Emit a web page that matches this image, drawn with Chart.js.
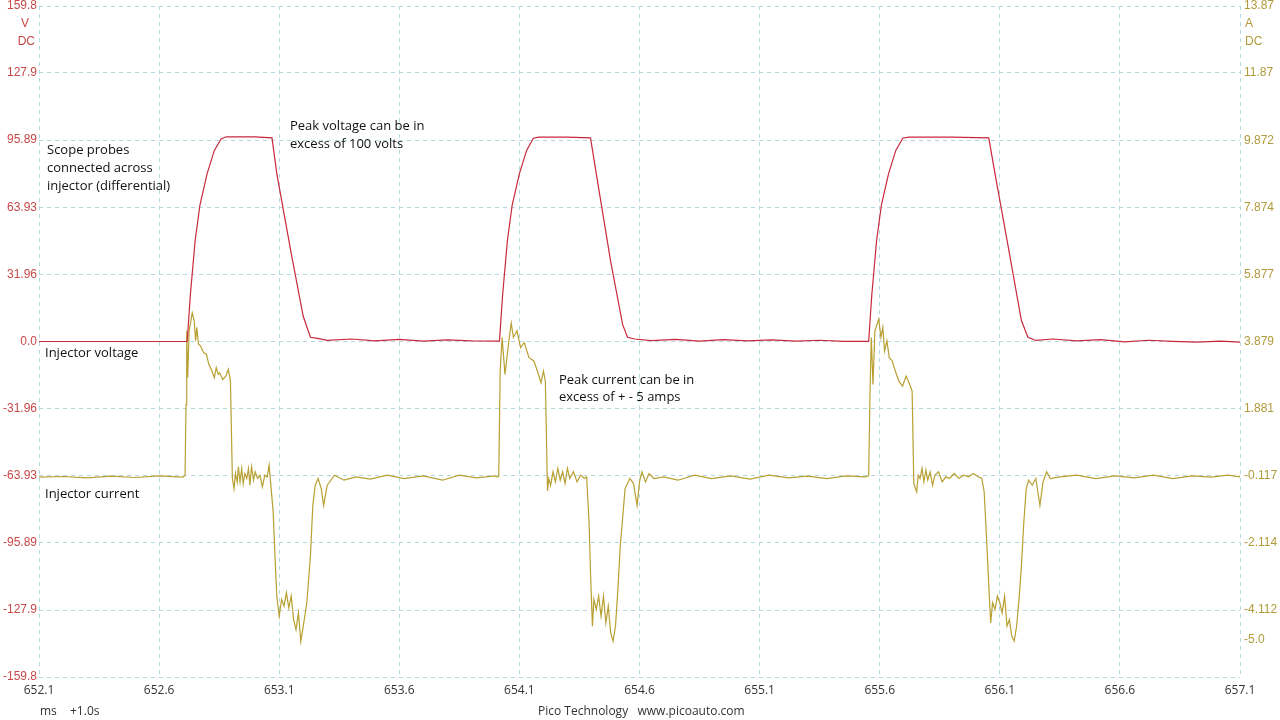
<!DOCTYPE html>
<html>
<head>
<meta charset="utf-8">
<script src="https://cdn.jsdelivr.net/npm/chart.js@4.4.1/dist/chart.umd.min.js"></script>
<style>
  html, body { margin: 0; padding: 0; background: #fff; }
  #wrap { width: 1280px; height: 720px; }
</style>
</head>
<body>
<div id="wrap"><canvas id="scope" width="1280" height="720"></canvas></div>
<script>
// Axis tick values
const voltTicks = [159.8, 127.9, 95.89, 63.93, 31.96, 0, -31.96, -63.93, -95.89, -127.9, -159.8];
const voltTickLabels = ['159.8', '127.9', '95.89', '63.93', '31.96', '0.0', '-31.96', '-63.93', '-95.89', '-127.9', '-159.8'];
const ampTicks = [13.87, 11.87, 9.872, 7.874, 5.877, 3.879, 1.881, -0.117, -2.114, -4.112, -5.0];
const ampTickLabels = ['13.87', '11.87', '9.872', '7.874', '5.877', '3.879', '1.881', '-0.117', '-2.114', '-4.112', '-5.0'];
const timeTicks = [652.1, 652.6, 653.1, 653.6, 654.1, 654.6, 655.1, 655.6, 656.1, 656.6, 657.1];

// Injector voltage (ms, V)
const voltTimes = [
  652.1, 652.3, 652.5, 652.717, 652.73, 652.75, 652.77, 652.80, 652.83, 652.858, 652.88, 653.0, 653.07,
  653.09, 653.15, 653.20, 653.23, 653.26, 653.30, 653.40, 653.50, 653.60, 653.70, 653.80, 653.90, 654.017,
  654.03, 654.05, 654.07, 654.10, 654.13, 654.158, 654.18, 654.30, 654.396,
  654.42, 654.48, 654.53, 654.55, 654.58, 654.65, 654.75, 654.85, 654.95, 655.05, 655.15, 655.25, 655.35, 655.45, 655.554,
  655.567, 655.587, 655.607, 655.637, 655.667, 655.696, 655.72, 655.90, 656.054,
  656.08, 656.14, 656.19, 656.217, 656.25, 656.32, 656.42, 656.52, 656.62, 656.72, 656.82, 656.92, 657.02, 657.1
];
const voltValues = [
  0, 0, 0, 0, 22, 48, 65, 80, 91, 96.5, 97.5, 97.5, 97,
  80, 42, 12, 2, 1.5, 0.5, 1.2, 0.3, 1.0, 0.2, 0.8, 0.3, 0.2,
  22, 48, 65, 80, 91, 96.8, 97.3, 97.3, 97,
  80, 38, 8, 2, 1.2, 0.4, 1.0, 0.2, 0.9, 0.3, 0.8, 0.2, 0.6, 0.1, 0.1,
  22, 48, 65, 80, 91, 96.8, 97.3, 97.3, 97,
  80, 42, 10, 2, 0.5, 1.2, 0.3, 0.9, -0.2, 0.6, 0.1, -0.3, 0.2, -0.3
];

// Injector current (ms, A)
const currTimes = [
  652.1, 652.2, 652.3, 652.4, 652.5, 652.6, 652.700, 652.708, 652.712, 652.715, 652.719, 652.725, 652.738,
  652.746, 652.752, 652.757, 652.764, 652.772, 652.785, 652.797, 652.807, 652.82, 652.83, 652.838, 652.846, 652.852,
  652.865, 652.878, 652.888, 652.897, 652.905, 652.912, 652.918, 652.925, 652.93, 652.937, 652.944, 652.95, 652.957,
  652.965, 652.972, 652.978, 652.985,
  652.993, 653.0, 653.01, 653.02, 653.03, 653.04, 653.05, 653.058, 653.064, 653.075, 653.083, 653.09, 653.1, 653.11,
  653.12, 653.13, 653.14, 653.15, 653.16, 653.17, 653.18, 653.19, 653.2, 653.215, 653.23, 653.24, 653.25, 653.262,
  653.275, 653.285, 653.3, 653.33, 653.37, 653.42, 653.48, 653.55, 653.62, 653.7, 653.78, 653.85, 653.92, 654.0,
  654.008, 654.014, 654.02, 654.028, 654.04, 654.058, 654.066, 654.075, 654.09, 654.105, 654.12, 654.14, 654.16,
  654.175, 654.19, 654.2, 654.208, 654.217, 654.222, 654.23, 654.24, 654.25, 654.26, 654.27, 654.28, 654.29, 654.3,
  654.31, 654.325, 654.34, 654.355, 654.37, 654.38, 654.39, 654.396, 654.404, 654.41, 654.42, 654.43, 654.44,
  654.45, 654.46, 654.47, 654.48, 654.49, 654.5, 654.51, 654.52, 654.54, 654.56, 654.575, 654.59, 654.6, 654.61,
  654.625, 654.64, 654.66, 654.7, 654.76, 654.83, 654.9, 654.98, 655.06, 655.14, 655.22, 655.3, 655.38, 655.46, 655.54,
  655.554, 655.56, 655.565, 655.572, 655.58, 655.596, 655.605, 655.613, 655.62, 655.63, 655.64, 655.652, 655.665,
  655.68, 655.695, 655.71, 655.725, 655.735, 655.742, 655.754, 655.76, 655.768, 655.776, 655.784, 655.792, 655.8,
  655.81, 655.82, 655.83, 655.845, 655.86, 655.875, 655.89, 655.91, 655.93, 655.95, 655.97, 655.99, 656.01, 656.025,
  656.035, 656.045, 656.055, 656.062, 656.07, 656.08, 656.09, 656.1, 656.11, 656.12, 656.13, 656.14, 656.15, 656.16,
  656.17, 656.18, 656.19, 656.2, 656.21, 656.22, 656.235, 656.25, 656.267, 656.28, 656.295, 656.31, 656.35, 656.42,
  656.5, 656.58, 656.66, 656.74, 656.82, 656.9, 656.98, 657.05, 657.1
];
const currValues = [
  -0.16, -0.14, -0.18, -0.13, -0.17, -0.12, -0.16, -0.1, 2.0, 4.2, 2.8, 4.2, 4.73,
  4.5, 3.9, 4.3, 3.8, 3.75, 3.55, 3.5, 3.2, 3.0, 2.8, 3.1, 2.9, 2.95,
  2.75, 2.85, 3.05, 2.7, -0.2, -0.5, -0.05, -0.3, 0.15, -0.3, 0.1, -0.35, -0.05,
  -0.2, 0.1, -0.4, 0.15,
  -0.25, 0.0, -0.2, -0.1, -0.45, -0.1, -0.15, 0.2, -0.3, -1.2, -2.6, -3.7, -4.3,
  -3.8, -4.0, -3.6, -4.05, -3.7, -4.4, -4.7, -4.2, -5.05, -4.6, -3.9, -2.5, -1.0, -0.4, -0.2, -0.5,
  -1.0, -0.4, -0.1, -0.25, -0.15, -0.22, -0.1, -0.2, -0.12, -0.25, -0.1, -0.18, -0.12, -0.16,
  -0.14, 3.0, 4.0, 2.9, 4.0, 4.43, 4.0, 4.2, 3.7, 3.85, 3.4, 3.3, 3.0,
  2.65, 3.0, 2.7, -0.57, -0.2, -0.4, 0.0, -0.3, 0.1, -0.25, 0.0, -0.35, 0.1,
  -0.2, 0.0, -0.3, -0.1, -0.2, -0.15, -1.5, -3.0, -4.6, -3.8, -4.1, -3.7, -4.3,
  -3.7, -4.5, -4.0, -4.8, -5.04, -4.6, -3.5, -2.2, -0.5, -0.2, -0.35, -1.0, -0.3, 0.0,
  -0.3, -0.05, -0.2, -0.15, -0.25, -0.1, -0.2, -0.12, -0.22, -0.1, -0.18, -0.13, -0.2, -0.12, -0.15,
  -0.12, 2.5, 4.0, 2.6, 4.2, 4.55, 4.0, 4.3, 3.6, 3.9, 3.4, 3.3, 3.0,
  2.7, 2.55, 2.85, 2.6, 2.4, -0.35, -0.6, -0.1, -0.2, 0.1, -0.3, 0.05, -0.25,
  0.0, -0.4, -0.1, 0.0, -0.3, -0.15, -0.2, -0.05, -0.2, -0.1, -0.15, -0.05, -0.15, -0.2,
  -0.6, -2.0, -3.5, -4.5, -3.9, -4.1, -3.7, -3.9, -4.2, -3.7, -4.6, -4.4, -4.9, -5.04,
  -4.6, -3.8, -2.8, -1.5, -0.5, -0.25, -0.4, -0.2, -1.0, -0.3, 0.0, -0.2, -0.15, -0.1,
  -0.2, -0.12, -0.18, -0.1, -0.2, -0.12, -0.16, -0.1, -0.15
];

const voltColor = '#c8283c';
const currColor = '#b8a032';
const gridColor = '#b4d8e0';

const voltPoints = voltTimes.map((t, i) => ({ x: t, y: voltValues[i] }));
const currPoints = currTimes.map((t, i) => ({ x: t, y: currValues[i] }));

// annotations and axis unit captions
const notes = [
  { text: 'Scope probes', x: 47, y: 150 },
  { text: 'connected across', x: 47, y: 168 },
  { text: 'injector (differential)', x: 47, y: 186 },
  { text: 'Peak voltage can be in', x: 290, y: 126 },
  { text: 'excess of 100 volts', x: 290, y: 144 },
  { text: 'Injector voltage', x: 45, y: 353 },
  { text: 'Peak current can be in', x: 559, y: 380 },
  { text: 'excess of + - 5 amps', x: 559, y: 397 },
  { text: 'Injector current', x: 45, y: 494 }
];

const tickFont = { size: 12, family: '"Liberation Sans", Arial, sans-serif' };

// stop Chart.js reserving half a label above/below the plot
function noEdgePad(s) {
  s.paddingTop = 0;
  s.paddingBottom = 0;
  s.paddingLeft = 0;
  s.paddingRight = 0;
}

const textPlugin = {
  id: 'scopeText',
  afterDraw(chart) {
    const ctx = chart.ctx;
    ctx.save();
    ctx.textBaseline = 'middle';
    ctx.font = '13px "Open Sans", sans-serif';
    ctx.fillStyle = '#111';
    ctx.textAlign = 'left';
    notes.forEach(n => ctx.fillText(n.text, n.x, n.y));

    ctx.font = '12px "Liberation Sans", Arial, sans-serif';
    ctx.fillStyle = '#c84848';
    ctx.textAlign = 'right';
    ctx.fillText('V', 29, 24);
    ctx.fillText('DC', 35, 42);
    ctx.fillStyle = '#b09a3a';
    ctx.textAlign = 'left';
    ctx.fillText('A', 1245, 24);
    ctx.fillText('DC', 1245, 42);

    ctx.font = '12px "Open Sans", sans-serif';
    ctx.fillStyle = '#333';
    ctx.fillText('ms', 40, 712);
    ctx.fillText('+1.0s', 70, 712);
    ctx.fillText('Pico Technology   www.picoauto.com', 538, 712);
    ctx.restore();
  }
};

new Chart(document.getElementById('scope'), {
  type: 'line',
  data: {
    datasets: [
      { label: 'Injector voltage', data: voltPoints, yAxisID: 'yV', borderColor: voltColor, borderWidth: 1.2, pointRadius: 0, tension: 0 },
      { label: 'Injector current', data: currPoints, yAxisID: 'yA', borderColor: currColor, borderWidth: 1.2, pointRadius: 0, tension: 0 }
    ]
  },
  options: {
    responsive: false,
    animation: false,
    layout: { padding: { top: 6, left: 0, right: 0, bottom: 0 } },
    plugins: { legend: { display: false }, tooltip: { enabled: false } },
    scales: {
      x: {
        type: 'linear',
        min: 652.1,
        max: 657.1,
        afterBuildTicks: s => { s.ticks = timeTicks.map(v => ({ value: v })); },
        afterFit: s => { s.height = 43; noEdgePad(s); },
        ticks: {
          callback: v => v.toFixed(1),
          color: '#333',
          font: { size: 12, family: '"Open Sans", sans-serif' },
          padding: 6,
          maxRotation: 0
        },
        grid: { color: gridColor, drawTicks: false },
        border: { display: false, dash: [4, 4] }
      },
      yV: {
        position: 'left',
        min: -159.8,
        max: 159.8,
        afterBuildTicks: s => { s.ticks = voltTicks.map(v => ({ value: v })); },
        afterFit: s => { s.width = 39; noEdgePad(s); },
        ticks: {
          callback: (v, i) => voltTickLabels[i],
          color: '#c84848',
          font: tickFont,
          padding: 2
        },
        grid: { color: gridColor, drawTicks: false },
        border: { display: false, dash: [4, 4] }
      },
      yA: {
        position: 'right',
        min: -6.11,
        max: 13.87,
        afterBuildTicks: s => { s.ticks = ampTicks.map(v => ({ value: v })); },
        afterFit: s => { s.width = 40; noEdgePad(s); },
        ticks: {
          callback: (v, i) => ampTickLabels[i],
          color: '#b09a3a',
          font: tickFont,
          padding: 4
        },
        grid: { display: false, drawTicks: false, tickLength: 0 },
        border: { display: false }
      }
    }
  },
  plugins: [textPlugin]
});
</script>
</body>
</html>
